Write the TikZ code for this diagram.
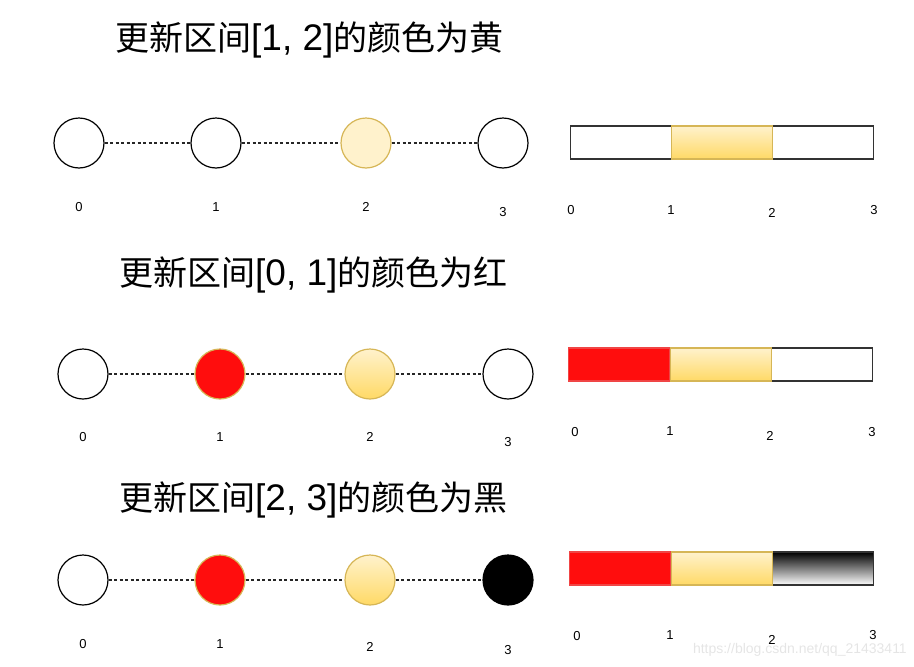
\documentclass[tikz,border=0pt]{standalone}
\usepackage{fontspec}
\setmainfont{Liberation Sans}
\newfontfamily\cjk{Noto Sans CJK SC}
\newcommand{\cj}[1]{{\cjk\fontsize{34}{40}\selectfont #1}}
\definecolor{yfill}{HTML}{FFF2CC}
\definecolor{ydark}{HTML}{FFD966}
\definecolor{ystroke}{HTML}{D6B656}
\definecolor{myred}{HTML}{FF0D0D}
\definecolor{redline}{HTML}{F04545}
\definecolor{greyline}{HTML}{333333}
\begin{document}
\begin{tikzpicture}[x=1pt,y=-1pt,
  pt/.style={circle,minimum size=50pt,inner sep=0pt,line width=1.2pt},
  plain/.style={pt,draw=black,fill=white},
  yflat/.style={pt,draw=ystroke,fill=yfill},
  ygrad/.style={pt,draw=ystroke,top color=yfill,bottom color=ydark},
  rdot/.style={pt,draw=ystroke,fill=myred},
  bdot/.style={pt,draw=black,fill=black},
  link/.style={dashed,dash pattern=on 3pt off 2.5pt,line width=1.1pt,draw=black!85},
  lbl/.style={font=\fontsize{13}{15}\selectfont,inner sep=0pt},
  ttl/.style={anchor=west,inner sep=0pt,font=\fontsize{37}{40}\selectfont},
  seg/.style={minimum height=33pt,minimum width=101pt,inner sep=0pt,anchor=west,line width=1.2pt},
  swhite/.style={seg,draw=greyline,fill=white},
  syel/.style={seg,draw=ystroke,top color=yfill,bottom color=ydark},
  sred/.style={seg,draw=redline,fill=myred},
  sblack/.style={seg,draw=greyline,top color=black,bottom color=white},
  wm/.style={font=\fontsize{14}{16}\selectfont,text=black!10,inner sep=0pt}]
\useasboundingbox (0,0) rectangle (914,667);

% ---------- Row 1
\node[ttl] (t1) at (115,40) {\cj{更新区间}[1, 2]\cj{的颜色为黄}};
\node[plain] (a0) at (79,143) {};
\node[plain] (a1) at (216,143) {};
\node[yflat] (a2) at (366,143) {};
\node[plain] (a3) at (503,143) {};
\draw[link] (a0) -- (a1);
\draw[link] (a1) -- (a2);
\draw[link] (a2) -- (a3);
\node[lbl] (al0) at (79,207) {0};
\node[lbl] (al1) at (216,207) {1};
\node[lbl] (al2) at (366,207) {2};
\node[lbl] (al3) at (503,212) {3};
\node[swhite] (ab0) at (570,142.5) {};
\node[swhite] (ab2) at (772,142.5) {};
\node[syel] (ab1) at (671,142.5) {};
\node[lbl] (abl0) at (571,210) {0};
\node[lbl] (abl1) at (671,210) {1};
\node[lbl] (abl2) at (772,213) {2};
\node[lbl] (abl3) at (874,210) {3};

% ---------- Row 2
\node[ttl] (t2) at (119,275) {\cj{更新区间}[0, 1]\cj{的颜色为红}};
\node[plain] (b0) at (83,374) {};
\node[rdot] (b1) at (220,374) {};
\node[ygrad] (b2) at (370,374) {};
\node[plain] (b3) at (508,374) {};
\draw[link] (b0) -- (b1);
\draw[link] (b1) -- (b2);
\draw[link] (b2) -- (b3);
\node[lbl] (bl0) at (83,437) {0};
\node[lbl] (bl1) at (220,437) {1};
\node[lbl] (bl2) at (370,437) {2};
\node[lbl] (bl3) at (508,442) {3};
\node[sred] (bb0) at (568,364.5) {};
\node[swhite] (bb2) at (771,364.5) {};
\node[syel] (bb1) at (669.5,364.5) {};
\node[lbl] (bbl0) at (575,432) {0};
\node[lbl] (bbl1) at (670,431) {1};
\node[lbl] (bbl2) at (770,436) {2};
\node[lbl] (bbl3) at (872,432) {3};

% ---------- Row 3
\node[ttl] (t3) at (119,500) {\cj{更新区间}[2, 3]\cj{的颜色为黑}};
\node[plain] (c0) at (83,580) {};
\node[rdot] (c1) at (220,580) {};
\node[ygrad] (c2) at (370,580) {};
\node[bdot] (c3) at (508,580) {};
\draw[link] (c0) -- (c1);
\draw[link] (c1) -- (c2);
\draw[link] (c2) -- (c3);
\node[lbl] (cl0) at (83,644) {0};
\node[lbl] (cl1) at (220,644) {1};
\node[lbl] (cl2) at (370,647) {2};
\node[lbl] (cl3) at (508,650) {3};
\node[sred] (cb0) at (569,568.5) {};
\node[sblack] (cb2) at (772,568.5) {};
\node[syel] (cb1) at (670.5,568.5) {};
\node[wm,anchor=east] (wmk) at (907,650) {https://blog.csdn.net/qq\_21433411};
\node[lbl] (cbl0) at (577,636) {0};
\node[lbl] (cbl1) at (670,635) {1};
\node[lbl] (cbl2) at (772,640) {2};
\node[lbl] (cbl3) at (873,635) {3};
\end{tikzpicture}
\end{document}
